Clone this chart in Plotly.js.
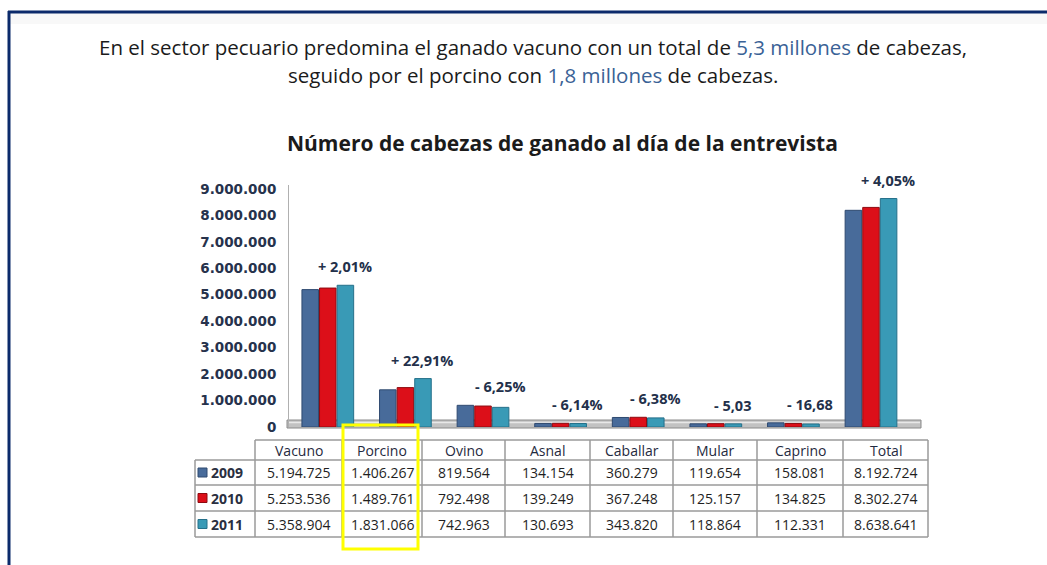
<!DOCTYPE html>
<html>
<head>
<meta charset="utf-8">
<script src="https://cdn.plot.ly/plotly-3.0.1.min.js"></script>
<style>html,body{margin:0;padding:0;background:#fff;}#chart{width:1047px;height:565px;}</style>
</head>
<body>
<div id="chart"></div>
<script>
// ---- data ----
const categories = ['Vacuno','Porcino','Ovino','Asnal','Caballar','Mular','Caprino','Total'];
const years = ['2009','2010','2011'];
const v2009 = [5194725,1406267,819564,134154,360279,119654,158081,8192724];
const v2010 = [5253536,1489761,792498,139249,367248,125157,134825,8302274];
const v2011 = [5358904,1831066,742963,130693,343820,118864,112331,8638641];
const changes = ['+ 2,01%','+ 22,91%','- 6,25%','- 6,14%','- 6,38%','- 5,03','- 16,68','+ 4,05%'];
const yTicks = [0,1000000,2000000,3000000,4000000,5000000,6000000,7000000,8000000,9000000];

// ---- style ----
const colors = ['#486b9a','#dc0f19','#399ab6'];
const lineColors = ['#2f4a70','#8e0a10','#25708a'];
const W = 1047, H = 565;
const M = {l:289, r:130, t:185, b:138};
const PW = W - M.l - M.r, PH = H - M.t - M.b;
const X = px => (px - M.l) / PW;
const Y = py => (H - M.b - py) / PH;
const FONT = '"Open Sans", Lato, sans-serif';

function fmt(n){ return String(n).replace(/\B(?=(\d{3})+(?!\d))/g, '.'); }

const series = [v2009, v2010, v2011];
const traces = series.map((vals, i) => ({
  type: 'bar', name: years[i], x: categories, y: vals,
  marker: {color: colors[i], line: {color: lineColors[i], width: 1}},
  hoverinfo: 'skip'
}));

const shapes = [];
const annotations = [];

// page frame
shapes.push({type:'rect', xref:'paper', yref:'paper', x0:X(9), x1:X(1047), y0:Y(24), y1:Y(13), fillcolor:'#f8f8f8', line:{width:0}, layer:'below'});
shapes.push({type:'line', xref:'paper', yref:'paper', x0:X(8), x1:X(1047), y0:Y(12), y1:Y(12), line:{color:'#0b2a6b', width:3}});
shapes.push({type:'line', xref:'paper', yref:'paper', x0:X(9), x1:X(9), y0:Y(11), y1:Y(565), line:{color:'#0b2a6b', width:3}});

// floor
shapes.push({type:'rect', xref:'paper', yref:'paper', x0:X(287), x1:X(921), y0:Y(428), y1:Y(420), fillcolor:'#c2c2c2', line:{color:'#8a8a8a', width:1}, layer:'below'});
shapes.push({type:'line', xref:'paper', yref:'paper', x0:X(288), x1:X(920), y0:Y(422.5), y1:Y(422.5), line:{color:'#e8e8e8', width:1.5}, layer:'below'});

// titles
annotations.push({xref:'paper', yref:'paper', x:X(533), y:Y(47), xanchor:'center', yanchor:'middle', showarrow:false,
  text:"En el sector pecuario predomina el ganado vacuno con un total de <span style='color:#3a6296'>5,3 millones</span> de cabezas,",
  font:{family:FONT, size:20.5, color:'#1b1b1b'}});
annotations.push({xref:'paper', yref:'paper', x:X(533), y:Y(75), xanchor:'center', yanchor:'middle', showarrow:false,
  text:"seguido por el porcino con <span style='color:#3a6296'>1,8 millones</span> de cabezas.",
  font:{family:FONT, size:20.5, color:'#1b1b1b'}});
annotations.push({xref:'paper', yref:'paper', x:X(562), y:Y(143), xanchor:'center', yanchor:'middle', showarrow:false,
  text:"<b>Número de cabezas de ganado al día de la entrevista</b>",
  font:{family:FONT, size:21, color:'#1b1b1b'}});

// change labels above groups
categories.forEach((c, i) => {
  const top = Math.max(v2009[i], v2010[i], v2011[i]);
  annotations.push({x:c, y:top, xref:'x', yref:'y', xanchor:'center', yanchor:'bottom', xshift:17, yshift:7,
    showarrow:false, text:'<b>'+changes[i]+'</b>', font:{family:FONT, size:14.5, color:'#23304a'}});
});

// ---- table ----
const colEdges = [195,255,342,422,505,590,673,757,843,928];
const rowEdges = [440,460,485,511,537];
const gridColor = '#9a9a9a';
rowEdges.forEach((ry, k) => {
  const x0 = k === 0 ? colEdges[1] : colEdges[0];
  shapes.push({type:'line', xref:'paper', yref:'paper', x0:X(x0), x1:X(colEdges[colEdges.length-1]), y0:Y(ry), y1:Y(ry), line:{color:gridColor, width:1.5}});
});
colEdges.forEach((cx, k) => {
  const y0 = k === 0 ? rowEdges[1] : rowEdges[0];
  shapes.push({type:'line', xref:'paper', yref:'paper', x0:X(cx), x1:X(cx), y0:Y(y0), y1:Y(rowEdges[rowEdges.length-1]), line:{color:gridColor, width:1.5}});
});
const cellFont = {family:FONT, size:14, color:'#1f1f1f'};
categories.forEach((c, i) => {
  const cx = (colEdges[i+1] + colEdges[i+2]) / 2;
  annotations.push({xref:'paper', yref:'paper', x:X(cx), y:Y((rowEdges[0]+rowEdges[1])/2), xanchor:'center', yanchor:'middle',
    showarrow:false, text:c, font:{family:FONT, size:14, color:'#1f2a40'}});
});
series.forEach((vals, r) => {
  const cy = (rowEdges[r+1] + rowEdges[r+2]) / 2;
  shapes.push({type:'rect', xref:'paper', yref:'paper', x0:X(198), x1:X(207), y0:Y(cy+4.5), y1:Y(cy-4.5), fillcolor:colors[r], line:{color:lineColors[r], width:1}});
  annotations.push({xref:'paper', yref:'paper', x:X(209), y:Y(cy), xanchor:'left', yanchor:'middle', showarrow:false,
    text:'<b>'+years[r]+'</b>', font:{family:FONT, size:14, color:'#2a2f3f'}});
  vals.forEach((v, i) => {
    const cx = (colEdges[i+1] + colEdges[i+2]) / 2;
    annotations.push({xref:'paper', yref:'paper', x:X(cx), y:Y(cy), xanchor:'center', yanchor:'middle',
      showarrow:false, text:fmt(v), font:cellFont});
  });
});
// yellow highlight around Porcino column
shapes.push({type:'rect', xref:'paper', yref:'paper', x0:X(343), x1:X(418), y0:Y(549), y1:Y(425), fillcolor:'rgba(0,0,0,0)', line:{color:'#ffff00', width:3}});

const layout = {
  width: W, height: H,
  margin: M,
  paper_bgcolor: '#ffffff', plot_bgcolor: 'rgba(0,0,0,0)',
  separators: ',.',
  barmode: 'group', bargap: 0.32, bargroupgap: 0.06,
  showlegend: false,
  xaxis: {showticklabels:false, showgrid:false, zeroline:false, showline:false, ticks:''},
  yaxis: {range:[0, 9150000], tickvals:yTicks, tickformat:',d', showgrid:false, zeroline:false,
    showline:true, linecolor:'#b0b0b0', linewidth:1, ticks:'outside', ticklen:9, tickcolor:'rgba(0,0,0,0)',
    tickfont:{family:'"DejaVu Sans", sans-serif', size:13.5, color:'#26324c', weight:'bold'}},
  shapes: shapes,
  annotations: annotations
};

Plotly.newPlot('chart', traces, layout, {displayModeBar:false, staticPlot:true});
</script>
</body>
</html>
